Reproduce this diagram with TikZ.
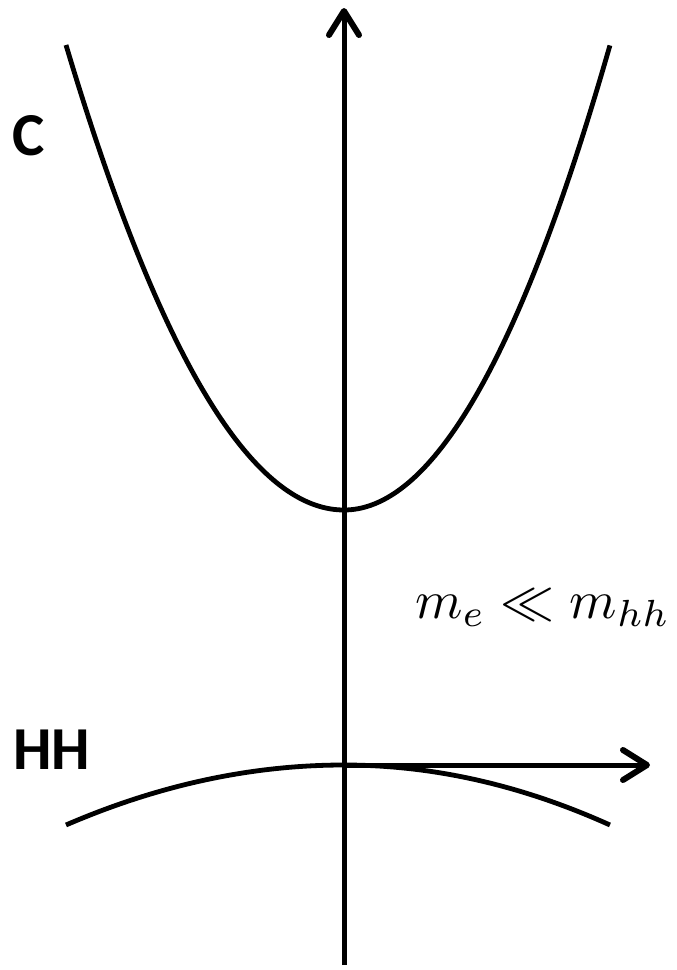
\documentclass[tikz,border=0pt]{standalone}
\usepackage{fontspec}
\usepackage{graphicx}
\setsansfont{Carlito}
\usetikzlibrary{arrows.meta}
\begin{document}
\begin{tikzpicture}[x=1pt,y=-1pt,
  axis/.style={line width=5pt,-{Straight Barb[length=24pt,width=30pt,line width=6pt,line cap=round,line join=round]}},
  band/.style={line width=4.8pt},
  lbl/.style={font=\sffamily\bfseries\fontsize{61}{64}\selectfont,inner sep=0pt}]
\useasboundingbox (0,0) rectangle (677,970);
\coordinate (ybot) at (344,965);
\coordinate (ytop) at (344,8);
\coordinate (origin) at (344,765);
\coordinate (xend) at (650,765);
\draw[axis] (ybot) -- (ytop);
\draw[axis] (origin) -- (xend);
% conduction band (t in units of 100 px)
\draw[band] plot[domain=-2.78:0,samples=80,smooth] ({344+100*\x},{510-60.17*\x*\x});
\draw[band] plot[domain=0:2.66,samples=80,smooth] ({344+100*\x},{510-65.7*\x*\x});
% heavy hole band
\draw[band] plot[domain=-2.78:0,samples=60,smooth] ({344+100*\x},{765+7.76*\x*\x});
\draw[band] plot[domain=0:2.66,samples=60,smooth] ({344+100*\x},{765+8.48*\x*\x});
\node[lbl,anchor=west] (C) at (12,136) {C};
\node[lbl,anchor=west] (HH) at (13,750) {HH};
\node[anchor=west,inner sep=0pt] (m) at (415,608) {\scalebox{5.4}{$m_e \ll m_{hh}$}};
\end{tikzpicture}
\end{document}
